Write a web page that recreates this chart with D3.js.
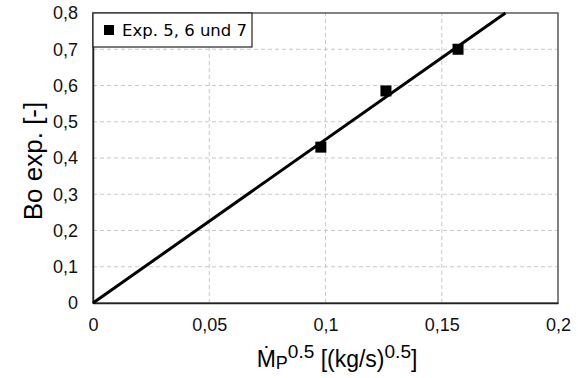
<!DOCTYPE html>
<html><head><meta charset="utf-8">
<script src="https://cdn.jsdelivr.net/npm/d3@7"></script>
<style>body{margin:0;background:#fff}svg{display:block}</style>
</head><body>
<svg id="c" width="578" height="378"></svg>
<script>
const xTicks = [0, 0.05, 0.1, 0.15, 0.2];
const yTicks = [0, 0.1, 0.2, 0.3, 0.4, 0.5, 0.6, 0.7, 0.8];
const pointsX = [0.098, 0.126, 0.157];
const pointsY = [0.43, 0.585, 0.70];
const fitSlope = [4.51];
const legendLabel = ["Exp. 5, 6 und 7"];

const svg = d3.select("#c");
const m = {l:93, r:20, t:13, b:75};
const W = 578, H = 378;
const x = d3.scaleLinear().domain([0, 0.2]).range([m.l, W - m.r]);
const y = d3.scaleLinear().domain([0, 0.8]).range([H - m.b, m.t]);
const fmt = d => d3.format("~g")(d).replace(".", ",");
const SANS = "'Liberation Sans', Arial, sans-serif";

// grid
svg.append("g").selectAll("line").data(yTicks.slice(1, -1)).join("line")
  .attr("x1", x(0)).attr("x2", x(0.2)).attr("y1", d => y(d)).attr("y2", d => y(d))
  .attr("stroke", "#c8c8c8").attr("stroke-dasharray", "4,3");
svg.append("g").selectAll("line").data(xTicks.slice(1, -1)).join("line")
  .attr("y1", y(0)).attr("y2", y(0.8)).attr("x1", d => x(d)).attr("x2", d => x(d))
  .attr("stroke", "#c8c8c8").attr("stroke-dasharray", "4,3");

// frame
svg.append("rect").attr("x", x(0)).attr("y", y(0.8)).attr("width", x(0.2) - x(0)).attr("height", y(0) - y(0.8))
  .attr("fill", "none").attr("stroke", "#595959").attr("stroke-width", 1.5);

// axes
const xa = svg.append("g").attr("transform", `translate(0,${y(0)})`)
  .call(d3.axisBottom(x).tickValues(xTicks).tickFormat(fmt).tickSize(0).tickPadding(15));
const ya = svg.append("g").attr("transform", `translate(${x(0)},0)`)
  .call(d3.axisLeft(y).tickValues(yTicks).tickFormat(fmt).tickSize(0).tickPadding(15));
[xa, ya].forEach(a => {
  a.select(".domain").attr("stroke", "#222").attr("stroke-width", 1.5);
  a.selectAll("text").style("font-family", SANS).style("font-size", "18px").attr("fill", "#111");
});

// fit line
const xEnd = 0.8 / fitSlope[0];
svg.append("line").attr("x1", x(0)).attr("y1", y(0)).attr("x2", x(xEnd)).attr("y2", y(fitSlope[0] * xEnd))
  .attr("stroke", "#000").attr("stroke-width", 3);

// points
const s = 11;
svg.append("g").selectAll("rect").data(pointsX.map((v, i) => [v, pointsY[i]])).join("rect")
  .attr("x", d => x(d[0]) - s / 2).attr("y", d => y(d[1]) - s / 2).attr("width", s).attr("height", s).attr("fill", "#000");

// legend
const lg = svg.append("g");
lg.append("rect").attr("x", x(0)).attr("y", y(0.8)).attr("width", 159).attr("height", 34)
  .attr("fill", "#fff").attr("stroke", "#222").attr("stroke-width", 1.2);
lg.append("rect").attr("x", x(0) + 11).attr("y", y(0.8) + 12).attr("width", 10).attr("height", 10).attr("fill", "#000");
lg.append("text").attr("x", x(0) + 29).attr("y", y(0.8) + 23).text(legendLabel[0])
  .style("font-family", "'DejaVu Sans', sans-serif").style("font-size", "16.5px").attr("fill", "#000");

// axis titles
svg.append("text").attr("transform", `translate(42,${(y(0) + y(0.8)) / 2 + 3}) rotate(-90)`)
  .attr("text-anchor", "middle").style("font-family", SANS).style("font-size", "26px").text("Bo exp. [-]");
const xt = svg.append("text").attr("x", 337).attr("y", 367).attr("text-anchor", "middle")
  .style("font-family", SANS).style("font-size", "23px");
xt.append("tspan").text("M\u0307");
xt.append("tspan").style("font-size", "18px").attr("dy", 2).text("P");
xt.append("tspan").style("font-size", "19px").attr("dy", -11).text("0.5");
xt.append("tspan").attr("dy", 9).text(" [(kg/s)");
xt.append("tspan").style("font-size", "19px").attr("dy", -9).text("0.5");
xt.append("tspan").attr("dy", 9).text("]");
</script>
</body></html>
